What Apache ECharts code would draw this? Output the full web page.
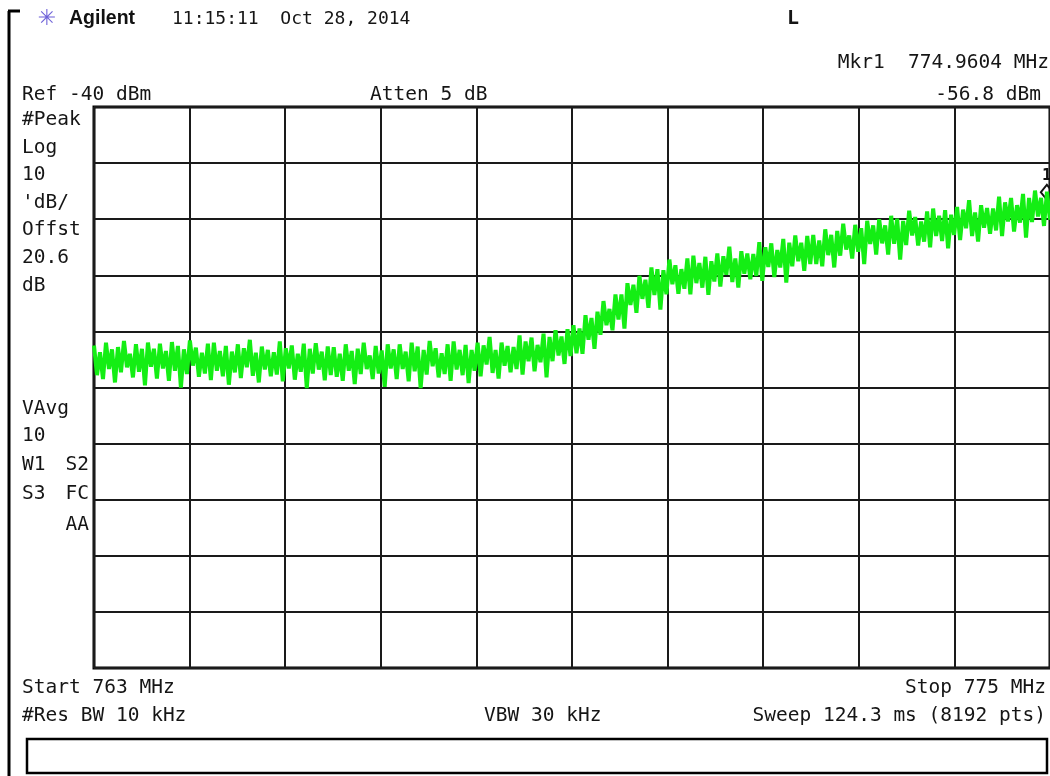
<!DOCTYPE html>
<html>
<head>
<meta charset="utf-8">
<script src="https://cdn.jsdelivr.net/npm/echarts@6/dist/echarts.min.js"></script>
<style>
html,body{margin:0;padding:0;background:#fff;}
#chart{width:1050px;height:776px;}
</style>
</head>
<body>
<div id="chart"></div>
<script>
// ---- data ----
const startMHz = 763;
const stopMHz = 775;
const refLevel = -40;
const bottomLevel = -140;
const dbPerDiv = 10;
const markerFreq = 774.9604;
const markerLevel = -56.8;
const traceDbm = [
-82.5,-87.8,-83.7,-88.5,-82.0,-86.7,-83.2,-89.1,-82.8,-87.3,-81.7,-86.4,-84.0,-88.2,-82.3,-87.2,-83.1,-89.6,-82.0,-86.3,
-83.1,-88.4,-82.2,-86.6,-83.5,-88.8,-81.9,-87.0,-82.6,-90.0,-83.2,-87.6,-81.6,-86.1,-82.9,-88.1,-83.8,-87.5,-82.2,-88.7,
-82.0,-87.0,-83.5,-88.0,-82.6,-89.5,-83.6,-87.3,-82.3,-88.3,-83.0,-86.4,-81.5,-87.9,-83.8,-89.1,-82.7,-86.8,-83.3,-88.0,
-83.7,-87.7,-81.8,-88.9,-83.0,-86.6,-82.5,-88.6,-84.0,-87.2,-82.2,-90.1,-83.1,-87.5,-82.1,-86.8,-83.6,-88.7,-82.7,-87.8,
-82.8,-88.1,-84.0,-88.8,-82.3,-87.0,-83.5,-89.4,-83.1,-87.6,-82.0,-86.7,-84.3,-88.5,-82.6,-87.5,-83.4,-89.9,-82.3,-86.6,
-83.2,-88.5,-82.3,-86.7,-83.6,-88.9,-82.0,-87.1,-82.7,-90.1,-83.3,-87.7,-81.7,-86.2,-83.0,-88.2,-83.9,-87.6,-82.3,-88.8,
-81.8,-86.8,-83.3,-87.8,-82.4,-89.2,-83.3,-87.0,-82.0,-88.0,-82.5,-85.9,-81.0,-87.4,-83.3,-88.4,-82.0,-86.1,-82.6,-87.3,
-82.8,-86.7,-80.7,-87.7,-81.8,-85.3,-81.1,-87.1,-82.4,-85.5,-80.4,-88.2,-81.0,-85.3,-79.8,-84.3,-80.9,-85.8,-79.6,-84.4,
-78.9,-83.9,-79.5,-84.0,-77.1,-81.5,-77.6,-83.1,-76.5,-80.6,-74.6,-78.9,-76.0,-79.8,-73.4,-77.9,-73.4,-79.5,-71.4,-75.3,
-71.7,-76.7,-70.1,-74.2,-70.8,-75.8,-68.6,-73.5,-68.9,-76.1,-69.1,-73.4,-67.2,-71.6,-68.2,-73.3,-68.9,-72.4,-67.0,-73.4,
-66.5,-71.4,-67.8,-72.2,-66.7,-73.5,-67.5,-71.1,-66.1,-72.0,-66.6,-69.9,-64.9,-71.2,-67.0,-72.2,-65.7,-69.7,-66.1,-70.7,
-66.2,-70.1,-64.1,-71.0,-65.0,-68.5,-64.3,-70.3,-65.5,-68.6,-63.5,-71.3,-64.2,-68.4,-62.9,-67.5,-64.2,-69.2,-63.0,-68.0,
-62.8,-68.0,-63.8,-68.4,-61.8,-66.4,-62.8,-68.6,-62.1,-66.5,-60.8,-65.4,-62.9,-67.0,-61.0,-65.8,-61.6,-68.0,-60.3,-64.4,
-61.1,-66.3,-60.0,-64.3,-61.1,-66.3,-59.4,-64.4,-59.9,-67.2,-60.3,-64.6,-58.5,-62.9,-59.6,-64.7,-60.4,-64.0,-58.6,-65.0,
-58.1,-63.0,-59.4,-63.9,-58.4,-65.2,-59.2,-62.8,-57.8,-63.7,-58.3,-61.6,-56.6,-63.0,-58.8,-64.0,-57.5,-61.5,-58.0,-62.6,
-58.1,-62.0,-56.0,-63.0,-57.0,-60.4,-56.2,-62.2,-57.5,-60.6,-55.5,-63.3,-56.2,-60.5,-54.9,-59.5,-56.2,-61.2,-55.1,-60.1
];
const headerDate = '11:15:11  Oct 28, 2014';
const leftUpperLabels = ['#Peak', 'Log', '10', '\'dB/', 'Offst', '20.6', 'dB'];
const leftLowerLabels = ['VAvg', '10', 'W1  S2', 'S3  FC', 'AA'];
const bottomLabels = ['Start 763 MHz', 'Stop 775 MHz', '#Res BW 10 kHz', 'VBW 30 kHz', 'Sweep 124.3 ms (8192 pts)'];

// ---- build ----
const step = (stopMHz - startMHz) / (traceDbm.length - 1);
const seriesData = traceDbm.map((v, i) => [startMHz + i * step, v]);

const MONO = "19.5px 'DejaVu Sans Mono', 'Liberation Mono', monospace";
function txt(text, x, y, align, font, fill) {
  return {
    type: 'text', x: x, y: y, silent: true,
    style: { text: text, font: font || MONO, fill: fill || '#151515',
      align: align || 'left', verticalAlign: 'middle',
      textAlign: align || 'left', textVerticalAlign: 'middle' }
  };
}

const graphics = [];
// frame
graphics.push({ type: 'line', shape: { x1: 9, y1: 11, x2: 9, y2: 776 }, style: { stroke: '#000', lineWidth: 3 } });
graphics.push({ type: 'line', shape: { x1: 8, y1: 11, x2: 20, y2: 11 }, style: { stroke: '#000', lineWidth: 3 } });
graphics.push({ type: 'rect', shape: { x: 27, y: 739, width: 1020, height: 34 }, style: { fill: 'none', stroke: '#000', lineWidth: 2.5 } });
// header
graphics.push(txt('\u2733', 47, 19, 'center', "22px 'DejaVu Sans'", '#6f63d8'));
graphics.push(txt('Agilent', 69, 19, 'left', "bold 19.5px 'Liberation Sans', Arial, sans-serif", '#111'));
graphics.push(txt(headerDate, 172, 19, 'left', "18px 'DejaVu Sans Mono', monospace"));
graphics.push(txt('L', 793, 19, 'center', "bold 20px 'DejaVu Sans Mono'"));
graphics.push(txt('Mkr1  774.9604 MHz', 1049, 63, 'right'));
graphics.push(txt('Ref -40 dBm', 22, 95, 'left'));
graphics.push(txt('Atten 5 dB', 370, 95, 'left'));
graphics.push(txt(markerLevel.toFixed(1) + ' dBm', 1041, 95, 'right'));
// left column
const upperY = [120, 148, 175, 203, 230, 258, 286];
leftUpperLabels.forEach((t, i) => graphics.push(txt(t, 22, upperY[i], 'left')));
const lowerY = [409, 436, 465, 494, 525];
graphics.push(txt(leftLowerLabels[0], 22, lowerY[0], 'left'));
graphics.push(txt(leftLowerLabels[1], 22, lowerY[1], 'left'));
graphics.push(txt('W1', 22, lowerY[2], 'left'));
graphics.push(txt('S2', 89, lowerY[2], 'right'));
graphics.push(txt('S3', 22, lowerY[3], 'left'));
graphics.push(txt('FC', 89, lowerY[3], 'right'));
graphics.push(txt(leftLowerLabels[4], 89, lowerY[4], 'right'));
// bottom
graphics.push(txt(bottomLabels[0], 22, 688, 'left'));
graphics.push(txt(bottomLabels[1], 1046, 688, 'right'));
graphics.push(txt(bottomLabels[2], 22, 716, 'left'));
graphics.push(txt(bottomLabels[3], 484, 716, 'left'));
graphics.push(txt(bottomLabels[4], 1046, 716, 'right'));

const chart = echarts.init(document.getElementById('chart'), null, { renderer: 'canvas' });
chart.setOption({
  animation: false,
  backgroundColor: '#ffffff',
  grid: { left: 94, top: 107, width: 958, height: 561, show: true, borderColor: '#000', borderWidth: 3, backgroundColor: 'transparent' },
  xAxis: [
    { type: 'value', min: startMHz, max: stopMHz, show: false },
    { type: 'value', min: 0, max: 10, interval: 1, position: 'bottom',
      axisLine: { show: false }, axisTick: { show: false }, axisLabel: { show: false },
      splitLine: { show: true, lineStyle: { color: '#1a1a1a', width: 2 } } }
  ],
  yAxis: {
    type: 'value', min: bottomLevel, max: refLevel, interval: dbPerDiv,
    axisLine: { show: false }, axisTick: { show: false }, axisLabel: { show: false },
    splitLine: { show: true, lineStyle: { color: '#1a1a1a', width: 2 } }
  },
  graphic: graphics,
  series: [{
    type: 'line', xAxisIndex: 0, yAxisIndex: 0,
    data: seriesData, showSymbol: false, sampling: null,
    lineStyle: { color: '#14ee14', width: 4, join: 'miter', miterLimit: 3 },
    itemStyle: { color: '#14ee14' },
    z: 5,
    markPoint: {
      silent: true,
      symbol: 'diamond', symbolSize: [12, 15], symbolOffset: [0, -9],
      itemStyle: { color: 'rgba(0,0,0,0)', borderColor: '#111', borderWidth: 2 },
      label: { show: true, formatter: '1', position: 'top', distance: 0, color: '#111', fontWeight: 'bold', fontSize: 16, fontFamily: 'DejaVu Sans Mono' },
      data: [{ coord: [markerFreq, markerLevel] }]
    }
  }]
});
</script>
</body>
</html>
